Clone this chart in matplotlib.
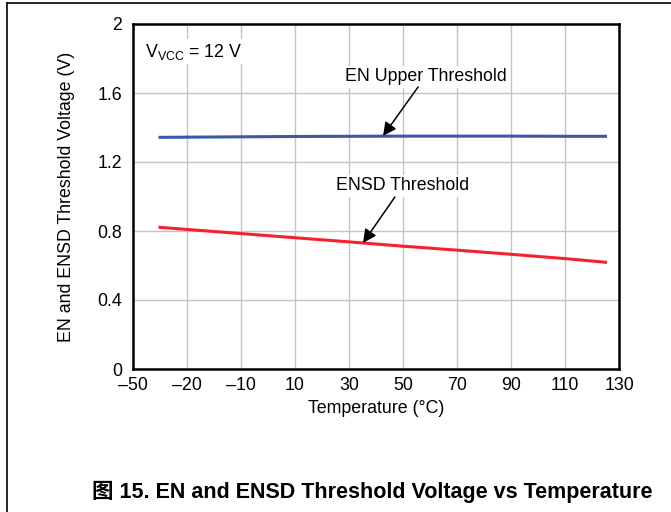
import numpy as np
import matplotlib
matplotlib.use("Agg")
import matplotlib.pyplot as plt
from matplotlib.lines import Line2D

plt.rcParams['font.family'] = ['Liberation Sans', 'Noto Sans CJK SC', 'DejaVu Sans']
plt.rcParams['mathtext.fontset'] = 'custom'
plt.rcParams['mathtext.rm'] = 'Liberation Sans'

# data
temp = [-40, -30, -10, 10, 30, 50, 70, 90, 110, 125]
en_upper = [1.343, 1.344, 1.346, 1.348, 1.349, 1.350, 1.350, 1.350, 1.349, 1.349]
ensd = [0.821, 0.809, 0.785, 0.761, 0.737, 0.712, 0.689, 0.665, 0.640, 0.619]

xticks = [-50, -30, -10, 10, 30, 50, 70, 90, 110, 130]
xticklabels = ['\u201350', '\u201320', '\u201310', '10', '30', '50', '70', '90', '110', '130']
yticks = [0, 0.4, 0.8, 1.2, 1.6, 2]
yticklabels = ['0', '0.4', '0.8', '1.2', '1.6', '2']

fs = 12.8

fig = plt.figure(figsize=(6.71, 5.12), dpi=100)
ax = fig.add_axes([133/671, 1 - 369/512, (619 - 133)/671, (369 - 24)/512])

ax.plot(temp, en_upper, color='#3a58a8', lw=2.2, zorder=3)
ax.plot(temp, ensd, color='#f5222d', lw=2.2, zorder=3)

ax.set_xlim(-50, 130)
ax.set_ylim(0, 2)
ax.set_xticks(xticks)
ax.set_xticklabels(xticklabels)
ax.set_yticks(yticks)
ax.set_yticklabels(yticklabels)
ax.tick_params(length=0, labelsize=fs)
ax.tick_params(axis='y', pad=8)
ax.tick_params(axis='x', pad=6)
ax.grid(True, color='#c4c4c4', lw=1)
ax.set_axisbelow(True)
for s in ax.spines.values():
    s.set_linewidth(1.8)

ax.set_xlabel('Temperature (\u00b0C)', fontsize=fs, labelpad=4)
ax.set_ylabel('EN and ENSD Threshold Voltage (V)', fontsize=fs, labelpad=16)

box = dict(facecolor='white', edgecolor='none', pad=1.5)
ax.text(-45.5, 1.84, r'$\mathregular{V_{VCC}}$ = 12 V', fontsize=fs, va='center', ha='left', bbox=box)

ax.text(58.5, 1.693, 'EN Upper Threshold', fontsize=fs, ha='center', va='center', bbox=box)
ax.annotate('', xy=(42.6, 1.351), xytext=(55.6, 1.635),
            arrowprops=dict(arrowstyle='-|>', color='black', lw=1.1, mutation_scale=20,
                            shrinkA=0, shrinkB=0))
ax.text(50, 1.061, 'ENSD Threshold', fontsize=fs, ha='center', va='center', bbox=box)
ax.annotate('', xy=(35.2, 0.731), xytext=(47, 0.997),
            arrowprops=dict(arrowstyle='-|>', color='black', lw=1.1, mutation_scale=20,
                            shrinkA=0, shrinkB=0))

fig.text(92/671, 1 - 492/512, '\u56fe 15. EN and ENSD Threshold Voltage vs Temperature',
         fontsize=15.5, fontweight='bold', ha='left', va='center')

# page frame lines
fig.add_artist(Line2D([7/671, 1], [1 - 2.5/512] * 2, color='black', lw=1.2))
fig.add_artist(Line2D([7/671] * 2, [0, 1 - 2.5/512], color='black', lw=1.2))

fig.savefig('out.png', dpi=100)
